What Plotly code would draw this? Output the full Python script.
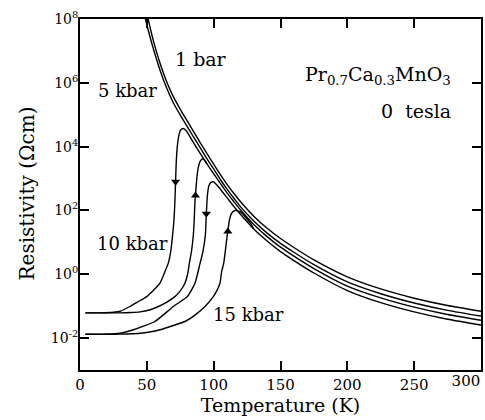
import plotly.graph_objects as go

# ---------------- data (temperature in K, log10 of resistivity in Ohm cm) -------------
T_1bar = [300, 275, 250, 225, 200, 175, 160, 150, 140, 130, 120, 115, 110, 105, 100,
          95, 90, 85, 80, 76, 70, 65, 60, 55, 51, 48]
lg_1bar = [-1.16, -0.98, -0.75, -0.46, -0.08, 0.45, 0.84, 1.12, 1.44, 1.82, 2.28, 2.54,
           2.82, 3.12, 3.45, 3.78, 4.12, 4.47, 4.82, 5.10, 5.55, 6.02, 6.60, 7.30, 8.0, 8.6]

T_5k = [300, 275, 250, 225, 200, 175, 160, 150, 140, 130, 120, 115, 110, 105, 100,
        95, 90, 85, 80, 76, 70, 65, 60, 55, 52, 49, 46]
lg_5k = [-1.31, -1.13, -0.90, -0.61, -0.24, 0.30, 0.69, 0.97, 1.29, 1.67, 2.12, 2.39,
         2.67, 2.97, 3.30, 3.62, 3.96, 4.30, 4.64, 4.92, 5.36, 5.82, 6.38, 7.05, 7.5, 8.0, 8.6]

# 10 kbar, cooling
T_10c = [300, 275, 250, 225, 200, 175, 160, 150, 140, 130, 120, 115, 110, 105, 100,
         95, 90, 85, 82, 79.5, 77.3, 75.3, 73.8, 72.8, 72.0, 71.5, 71.0, 70.3, 69.3,
         68.0, 66.0, 63.6, 59.8, 55.0, 49.9, 43.0, 37.4, 30.0, 25.0, 15.0, 4.0]
lg_10c = [-1.44, -1.26, -1.03, -0.74, -0.37, 0.18, 0.57, 0.85, 1.18, 1.56, 2.02, 2.28,
          2.55, 2.85, 3.15, 3.46, 3.78, 4.12, 4.33, 4.50, 4.57, 4.52, 4.32, 4.00, 3.50,
          2.90, 2.28, 1.70, 1.24, 0.75, 0.34, 0.09, -0.28, -0.50, -0.70, -0.87, -1.01,
          -1.16, -1.19, -1.21, -1.21]

# 10 kbar, warming
T_10w = [4, 20, 30, 38, 45, 52, 58.6, 65, 71, 75, 78.5, 80.5, 81.8, 83.5, 84.8, 85.5,
         86.0, 86.8, 87.5, 88.5, 90.0, 92.0, 95.0]
lg_10w = [-1.21, -1.21, -1.21, -1.20, -1.18, -1.12, -1.01, -0.87, -0.70, -0.52, -0.28,
          0.00, 0.34, 0.75, 1.24, 1.75, 2.28, 2.70, 3.05, 3.35, 3.55, 3.62, 3.46]

# 15 kbar, cooling
T_15c = [300, 275, 250, 225, 200, 175, 160, 150, 140, 130, 120, 115, 110, 104, 101.5,
         99.7, 98, 96.5, 95.5, 95.0, 94.5, 93.8, 92.0, 89.8, 86.0, 80.3, 75, 69.8, 63,
         56, 48, 40, 30, 20, 4]
lg_15c = [-1.59, -1.41, -1.18, -0.89, -0.51, 0.04, 0.43, 0.71, 1.04, 1.42, 1.88, 2.13,
          2.40, 2.72, 2.84, 2.90, 2.88, 2.78, 2.55, 2.28, 1.90, 1.24, 0.72, 0.34, -0.28,
          -0.70, -0.86, -1.01, -1.25, -1.48, -1.62, -1.74, -1.85, -1.88, -1.88]

# 15 kbar, warming
T_15w = [4, 25, 35, 45, 52, 59.8, 68, 78.5, 86, 93.5, 99.7, 102.2, 104.7, 106.0, 107.5,
         110.2, 110.6, 111.8, 113.5, 116.0, 118.5, 121, 124, 127.5, 130]
lg_15w = [-1.88, -1.88, -1.87, -1.85, -1.81, -1.74, -1.63, -1.48, -1.28, -1.01, -0.70,
          -0.53, -0.28, 0.09, 0.34, 1.24, 1.34, 1.70, 1.92, 2.00, 1.98, 1.92, 1.78,
          1.60, 1.42]

# hysteresis arrows
T_arrow_down = [71.5, 94.5]
lg_arrow_down = [2.90, 1.90]
T_arrow_up = [86.4, 110.6]
lg_arrow_up = [2.47, 1.34]

# axis ticks
x_ticks = [0, 50, 100, 150, 200, 250, 300]
x_tick_text = ["0", "50", "100", "150", "200", "250", "300"]
y_tick_exp = [-2, 0, 2, 4, 6, 8]
y_tick_text = ["10<sup>-2</sup>", "10<sup>0</sup>", "10<sup>2</sup>", "10<sup>4</sup>",
               "10<sup>6</sup>", "10<sup>8</sup>"]

FONT = "DejaVu Serif"

fig = go.Figure()

def curve(T, lg):
    fig.add_trace(go.Scatter(
        x=T, y=[10 ** v for v in lg], mode="lines",
        line=dict(color="black", width=1.4, shape="spline", smoothing=0.6),
        showlegend=False, hoverinfo="skip"))

for T, lg in [(T_1bar, lg_1bar), (T_5k, lg_5k), (T_10c, lg_10c), (T_10w, lg_10w),
              (T_15c, lg_15c), (T_15w, lg_15w)]:
    curve(T, lg)

fig.add_trace(go.Scatter(x=T_arrow_down, y=[10 ** v for v in lg_arrow_down], mode="markers",
                         marker=dict(symbol="triangle-down", size=8, color="black"),
                         showlegend=False, hoverinfo="skip"))
fig.add_trace(go.Scatter(x=T_arrow_up, y=[10 ** v for v in lg_arrow_up], mode="markers",
                         marker=dict(symbol="triangle-up", size=8, color="black"),
                         showlegend=False, hoverinfo="skip"))
# empty trace to register the secondary x axis used for the last tick label
fig.add_trace(go.Scatter(x=[None], y=[None], xaxis="x2", yaxis="y", mode="lines",
                         showlegend=False, hoverinfo="skip"))

labels = [
    ("1 bar", 90.5, 6.74, 19),
    ("5 kbar", 35.2, 5.76, 18),
    ("10 kbar", 38.9, 0.97, 18),
    ("15 kbar", 126.4, -1.25, 18),
]
for text, x, y, size in labels:
    fig.add_annotation(x=x, y=y, xref="x", yref="y", text=text, showarrow=False,
                       xanchor="center", yanchor="middle",
                       font=dict(family=FONT, size=size, color="black"))

fig.add_annotation(x=279, y=6.22, xref="x", yref="y",
                   text="Pr<sub>0.7</sub>Ca<sub>0.3</sub>MnO<sub>3</sub>",
                   showarrow=False, xanchor="right", yanchor="middle",
                   font=dict(family=FONT, size=19, color="black"))
fig.add_annotation(x=279, y=5.12, xref="x", yref="y", text="0\u00a0\u00a0tesla",
                   showarrow=False, xanchor="right", yanchor="middle",
                   font=dict(family=FONT, size=19, color="black"))

# y axis title
fig.add_annotation(x=-0.132, y=0.503, xref="paper", yref="paper",
                   text="Resistivity (\u03a9cm)", textangle=-90, showarrow=False,
                   xanchor="center", yanchor="middle",
                   font=dict(family=FONT, size=20, color="black"))

fig.update_layout(
    xaxis=dict(range=[0, 300], tickvals=x_ticks[:-1], ticktext=x_tick_text[:-1],
               ticks="inside", ticklen=9,
               tickwidth=1.5, tickcolor="black", showline=True, linewidth=2,
               linecolor="black", mirror="ticks", showgrid=False, zeroline=False,
               automargin=False,
               tickfont=dict(family=FONT, size=15, color="black"),
               title=dict(text="Temperature (K)", standoff=4,
                          font=dict(family=FONT, size=19, color="black"))),
    xaxis2=dict(range=[0, 300], overlaying="x", side="bottom",
                tickvals=x_ticks[-1:], ticktext=x_tick_text[-1:],
                ticklabelposition="outside left", ticks="inside", ticklen=9,
                tickwidth=1.5, tickcolor="black", showline=False, showgrid=False,
                zeroline=False, automargin=False,
                tickfont=dict(family=FONT, size=15, color="black")),
    yaxis=dict(type="log", range=[-3, 8], tickvals=[10 ** e for e in y_tick_exp],
               ticktext=y_tick_text, ticks="inside", ticklen=9, tickwidth=1.5,
               tickcolor="black", showline=True, linewidth=2, linecolor="black",
               mirror="ticks", showgrid=False, zeroline=False,
               automargin=False, ticklabelstandoff=-3,
               tickfont=dict(family=FONT, size=14, color="black")),
    width=485, height=420, margin=dict(l=80, r=4, t=19, b=50),
    paper_bgcolor="white", plot_bgcolor="white")

fig.write_html("out.html", config={"displayModeBar": False},
               post_script="document.body.style.margin='0';document.body.style.padding='0';")
